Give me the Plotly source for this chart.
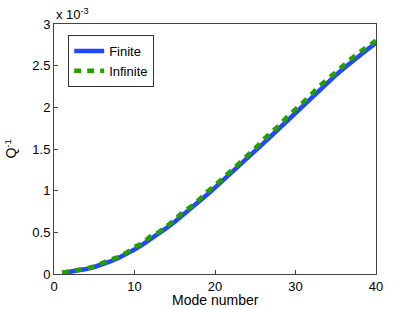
import plotly.graph_objects as go

modes = list(range(1, 41))
finite = [0.012, 0.024, 0.039, 0.059, 0.084, 0.114, 0.150, 0.192, 0.240, 0.294,
          0.353, 0.416, 0.483, 0.554, 0.628, 0.705, 0.785, 0.867, 0.951, 1.036,
          1.122, 1.209, 1.297, 1.386, 1.476, 1.567, 1.659, 1.751, 1.844, 1.937,
          2.030, 2.122, 2.212, 2.300, 2.386, 2.469, 2.549, 2.626, 2.700, 2.771]
infinite = [0.015, 0.028, 0.045, 0.066, 0.092, 0.124, 0.170, 0.204, 0.255, 0.324,
            0.369, 0.454, 0.501, 0.574, 0.650, 0.745, 0.807, 0.891, 0.986, 1.062,
            1.150, 1.239, 1.339, 1.416, 1.508, 1.612, 1.692, 1.785, 1.889, 1.972,
            2.066, 2.158, 2.258, 2.338, 2.424, 2.508, 2.588, 2.664, 2.735, 2.800]

ytick_vals = [0, 0.5, 1, 1.5, 2, 2.5, 3]
ytick_text = ["0", "0.5", "1", "1.5", "2", "2.5", "3"]
xtick_vals = [0, 10, 20, 30, 40]

scale = 1e-3
FONT = "Liberation Sans, Arial, sans-serif"

fig = go.Figure()
fig.add_trace(go.Scatter(x=modes, y=[v * scale for v in finite], mode="lines", name="Finite",
                         line=dict(color="#2346ff", width=4.5)))
fig.add_trace(go.Scatter(x=modes, y=[v * scale for v in infinite], mode="lines", name="Infinite",
                         line=dict(color="#22a000", width=4.5, dash="7px,6px")))

axis_common = dict(showgrid=False, zeroline=False, showline=True, linecolor="#444", linewidth=1,
                   mirror=True, ticks="inside", ticklen=4, tickcolor="#444",
                   tickfont=dict(family=FONT, size=13, color="#000"))

fig.update_layout(
    width=415, height=309,
    margin=dict(l=54, r=39, t=24, b=35),
    paper_bgcolor="white", plot_bgcolor="white",
    font=dict(family=FONT, size=13, color="#000"),
    xaxis=dict(range=[0, 40], tickvals=xtick_vals, **axis_common),
    yaxis=dict(range=[0, 3 * scale], tickvals=[v * scale for v in ytick_vals], ticktext=ytick_text,
               **axis_common),
    legend=dict(x=0.044, y=0.956, xanchor="left", yanchor="top", bgcolor="white",
                bordercolor="#333", borderwidth=1, font=dict(size=13), tracegroupgap=0),
    showlegend=True,
    annotations=[
        dict(text="x 10<sup>-3</sup>", xref="paper", yref="paper", x=0.0, y=1.0,
             xanchor="left", yanchor="bottom", showarrow=False, font=dict(size=13)),
        dict(text="Q<sup>-1</sup>", xref="paper", yref="paper", x=-0.135, y=0.5,
             xanchor="center", yanchor="middle", textangle=-90, showarrow=False, font=dict(size=14)),
        dict(text="Mode number", xref="paper", yref="paper", x=0.5, y=-0.066,
             xanchor="center", yanchor="top", showarrow=False, borderpad=0, font=dict(size=14)),
    ],
)

fig.write_html("out.html", config={"displayModeBar": False},
               post_script="document.body.style.margin='0';")
